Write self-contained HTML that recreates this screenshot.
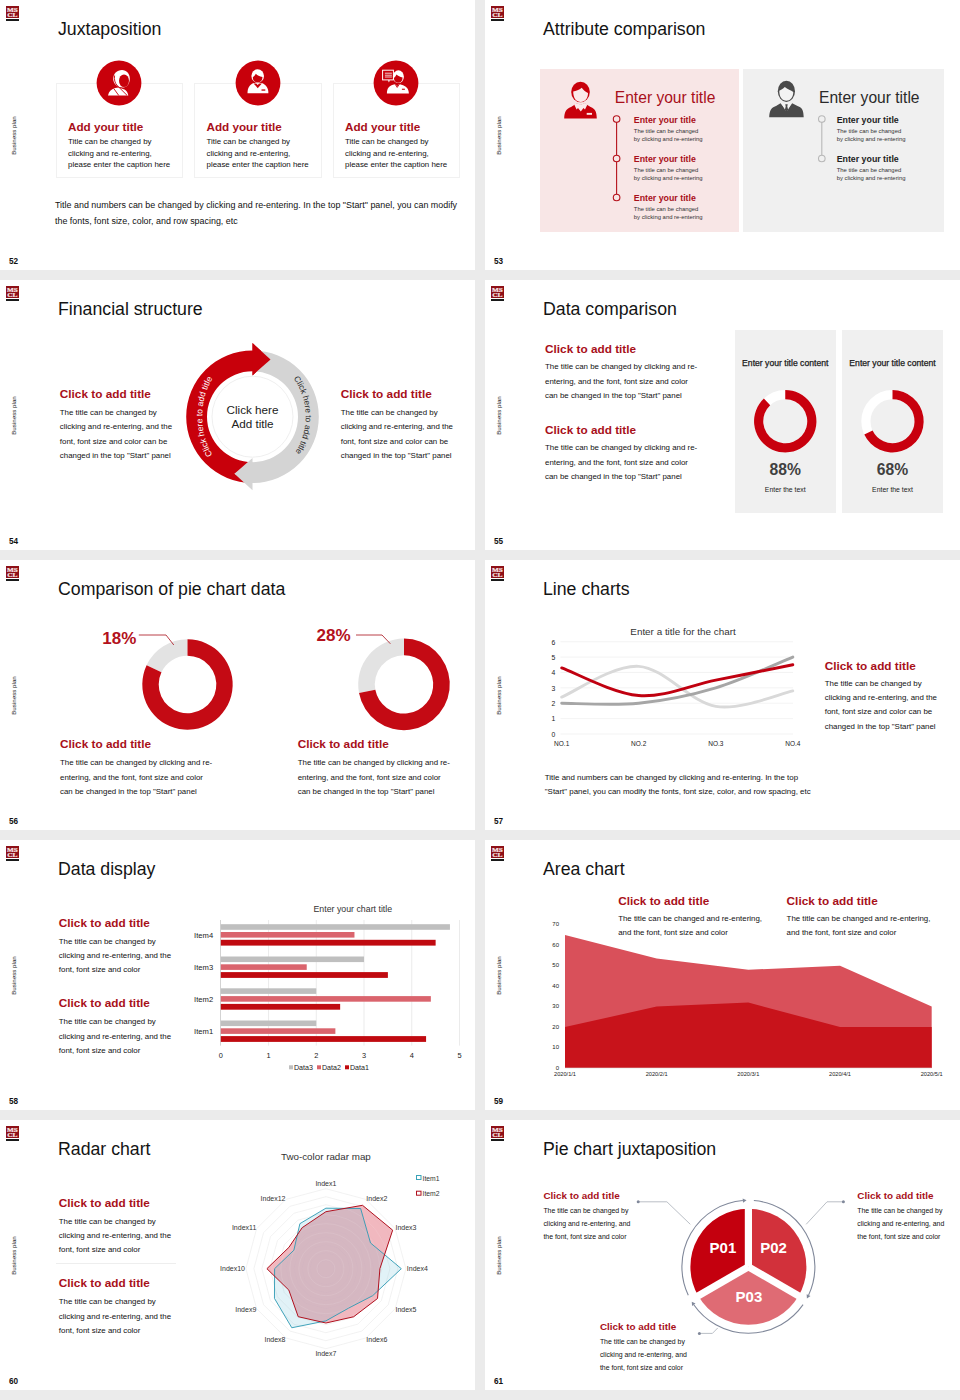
<!DOCTYPE html>
<html><head><meta charset="utf-8"><style>
html,body{margin:0;padding:0;}
body{width:960px;height:1400px;background:#ebebeb;position:relative;overflow:hidden;font-family:"Liberation Sans", sans-serif;}
.s{position:absolute;width:475px;height:270px;background:#fff;overflow:hidden;}
.t{position:absolute;white-space:nowrap;}
svg{overflow:visible;}
</style></head><body>
<div class="s" style="left:0px;top:0px"><div style="position:absolute;left:6.2px;top:5.9px;width:12.6px;height:12px;background:#8e1017"></div><svg style="position:absolute;left:6.2px;top:5.9px" width="12.6" height="12" viewBox="0 0 12.6 12"><g fill="#f6e3e3" stroke="#f6e3e3" stroke-width="0.25" font-family="Liberation Serif" font-weight="700" font-size="6.8"><text x="0.9" y="5.7" textLength="10.8" lengthAdjust="spacingAndGlyphs">MS</text><text x="1.2" y="11" textLength="10.3" lengthAdjust="spacingAndGlyphs">CL</text></g></svg><div style="position:absolute;left:6.2px;top:19px;width:12.6px;height:1.8px;background:#1a1a1a"></div><div class="t" style="left:58.00px;top:18.67px;font-size:17.72px;line-height:20.377999999999997px;font-weight:400;color:#141414;">Juxtaposition</div><div class="t" style="left:-7.5px;top:131.8px;width:40px;text-align:center;font-size:6.2px;line-height:7px;color:#111;transform:rotate(-90deg)">Business plan</div><div class="t" style="left:8.90px;top:256.74px;font-size:8.2px;line-height:9.429999999999998px;font-weight:700;color:#111;">52</div><div style="position:absolute;left:55.5px;top:83.2px;width:127.5px;height:95px;box-sizing:border-box;border:1px solid #f1f1f1;"></div><div style="position:absolute;left:194px;top:83.2px;width:127.5px;height:95px;box-sizing:border-box;border:1px solid #f1f1f1;"></div><div style="position:absolute;left:332.5px;top:83.2px;width:127.5px;height:95px;box-sizing:border-box;border:1px solid #f1f1f1;"></div><svg style="position:absolute;left:96.1px;top:60.4px" width="46" height="46" viewBox="0 0 46 46"><circle cx="23" cy="23" r="22.4" fill="#c8000b"/><path d="M17.2 19 C17.2 13.5 21 9.9 26 9.9 C30.5 9.9 33.8 13.5 33.8 18.5 C33.8 23.5 31 27.5 27 27.5 C22 27.5 17.2 24 17.2 19Z" fill="#fff"/><ellipse cx="28" cy="20.7" rx="5" ry="6.3" fill="#c8000b"/><path d="M12 35.5 C12.8 31.5 15 29.3 19 28 L22.5 27.6 L28.5 29.5 C30.5 30.5 31.8 32.5 32.3 35.5 Z" fill="#fff"/><path d="M18.6 15.5 C18 19.5 18.8 23 21.2 25.5 L31 35.3" stroke="#c8000b" stroke-width="0.9" fill="none"/><path d="M17.8 28.6 L22.8 35.5" stroke="#c8000b" stroke-width="0.9"/></svg><div class="t" style="left:68.00px;top:120.32px;font-size:11.7px;line-height:13.454999999999998px;font-weight:700;color:#a8101a;">Add your title</div><div class="t" style="left:68.00px;top:136.01px;font-size:7.9px;line-height:11.5px;font-weight:400;color:#111111;">Title can be changed by<br>clicking and re-entering,<br>please enter the caption here</div><svg style="position:absolute;left:234.60000000000002px;top:60.4px" width="46" height="46" viewBox="0 0 46 46"><circle cx="23" cy="23" r="22.4" fill="#c8000b"/><ellipse cx="22.7" cy="16" rx="6.3" ry="6.8" fill="#fff"/><path d="M17.8 17.2 C17.8 20.5 19.5 22.4 22.6 22.4 C25.8 22.4 27.5 20.5 27.5 17 C24.5 16.6 22.5 15.5 20.8 13.8 C20 15.5 19 16.5 17.8 17.2Z" fill="#c8000b"/><path d="M12.5 33.2 C12.5 28 14.5 24.5 19 23.1 L22.7 22.7 L26.5 23.1 C31 24.5 33.4 28 33.4 33.2 Z" fill="#fff"/><path d="M18.6 23.4 L26.9 23.4 L22.7 28.2 Z" fill="#c8000b"/><path d="M21 23.2 L24.4 23.2 L22.7 25.1 Z" fill="#fff"/><rect x="26.5" y="29.4" width="3.8" height="1.3" fill="#c8000b"/></svg><div class="t" style="left:206.50px;top:120.32px;font-size:11.7px;line-height:13.454999999999998px;font-weight:700;color:#a8101a;">Add your title</div><div class="t" style="left:206.50px;top:136.01px;font-size:7.9px;line-height:11.5px;font-weight:400;color:#111111;">Title can be changed by<br>clicking and re-entering,<br>please enter the caption here</div><svg style="position:absolute;left:373.1px;top:60.4px" width="46" height="46" viewBox="0 0 46 46"><circle cx="23" cy="23" r="22.4" fill="#c8000b"/><rect x="9.6" y="10.2" width="10.8" height="9.7" fill="none" stroke="#fff" stroke-width="1"/><path d="M14.9 20.3 L15.9 22.4 L16.9 20.3Z" fill="#fff"/><path d="M11.9 13.2h7M11.9 15.2h7M11.9 17h7" stroke="#fff" stroke-width="0.8"/><ellipse cx="25.4" cy="16.7" rx="5.5" ry="6.4" fill="#fff"/><path d="M20.9 18 C20.9 21 22.8 22.7 25.2 22.7 C27.8 22.7 29.6 21 29.6 17.5 C27 17 25 16 23.5 14.6 C22.8 16.2 22 17.2 20.9 18Z" fill="#c8000b"/><path d="M13.9 33.4 C14 28.5 15.8 25.8 20 24.7 L22.5 24 L24.2 26.5 L26 24 L28.5 24.7 C33 25.8 35.8 28.5 35.9 33.4 Z" fill="#fff"/><path d="M21.8 23.7 L24.2 27.4 L26.7 23.7" stroke="#c8000b" stroke-width="0.9" fill="none"/><rect x="28.9" y="28.7" width="3" height="1.1" fill="#c8000b"/></svg><div class="t" style="left:345.00px;top:120.32px;font-size:11.7px;line-height:13.454999999999998px;font-weight:700;color:#a8101a;">Add your title</div><div class="t" style="left:345.00px;top:136.01px;font-size:7.9px;line-height:11.5px;font-weight:400;color:#111111;">Title can be changed by<br>clicking and re-entering,<br>please enter the caption here</div><div class="t" style="left:55.00px;top:196.58px;font-size:8.92px;line-height:16.25px;font-weight:400;color:#111;">Title and numbers can be changed by clicking and re-entering. In the top "Start" panel, you can modify<br>the fonts, font size, color, and row spacing, etc</div></div><div class="s" style="left:485px;top:0px"><div style="position:absolute;left:6.2px;top:5.9px;width:12.6px;height:12px;background:#8e1017"></div><svg style="position:absolute;left:6.2px;top:5.9px" width="12.6" height="12" viewBox="0 0 12.6 12"><g fill="#f6e3e3" stroke="#f6e3e3" stroke-width="0.25" font-family="Liberation Serif" font-weight="700" font-size="6.8"><text x="0.9" y="5.7" textLength="10.8" lengthAdjust="spacingAndGlyphs">MS</text><text x="1.2" y="11" textLength="10.3" lengthAdjust="spacingAndGlyphs">CL</text></g></svg><div style="position:absolute;left:6.2px;top:19px;width:12.6px;height:1.8px;background:#1a1a1a"></div><div class="t" style="left:58.00px;top:18.67px;font-size:17.72px;line-height:20.377999999999997px;font-weight:400;color:#141414;">Attribute comparison</div><div class="t" style="left:-7.5px;top:131.8px;width:40px;text-align:center;font-size:6.2px;line-height:7px;color:#111;transform:rotate(-90deg)">Business plan</div><div class="t" style="left:8.90px;top:256.74px;font-size:8.2px;line-height:9.429999999999998px;font-weight:700;color:#111;">53</div><div style="position:absolute;left:55px;top:68.5px;width:199px;height:163.5px;background:#f8e6e6"></div><div style="position:absolute;left:258px;top:68.5px;width:201px;height:163.5px;background:#f0f0f0"></div><svg style="position:absolute;left:0px;top:0px" width="475" height="270" viewBox="0 0 475 270"><g transform="translate(73,76)"><ellipse cx="22.5" cy="16" rx="9.3" ry="10.3" fill="#c8000b"/><path d="M15.2 15.5 C15.2 22.5 18.5 26 22.8 26 C27 26 30 22.5 30 17 C27.5 16 25 14 23.8 11.8 C21 14.2 18 15 15.2 15.5Z" fill="#fbeaea"/><path d="M6.2 42.6 C6.4 36 8 32.8 13 31 L19 27.3 L22.8 29 L26.6 27.3 L32.6 31 C37.5 32.8 38.6 36 38.8 42.6 Z" fill="#c8000b"/><path d="M16.2 28.5 L19 27 L22.8 28.8 L26.6 27 L29.4 28.5 L27 33.5 L25.5 32 L22.8 35.5 L20 32 L18.6 33.5 Z" fill="#fbeaea"/><rect x="28.7" y="36.9" width="5.3" height="1.9" fill="#fbeaea"/></g><g transform="translate(278,76)"><ellipse cx="23.4" cy="15.3" rx="8.6" ry="10.6" fill="#4a4a4a"/><path d="M16.3 14.8 C16.3 21 19 24.8 23.5 24.8 C27.5 24.8 30.3 21 30.3 16 C28 14.5 24.5 13 21.8 11 C20 12.8 18 14 16.3 14.8Z" fill="#f3f3f3"/><path d="M6.2 41.2 C6.5 35 8 31.6 13 30 L17.5 27.2 L23.5 34 L29.2 27.2 L34.5 30 C39.5 31.6 40.5 35 40.7 41.2 Z" fill="#4a4a4a"/><path d="M18.2 27.4 L20.5 27.5 L23.5 28.8 L26.5 27.5 L28.7 27.4 L24.5 34.5 L22.5 34.5 Z" fill="#f3f3f3"/><path d="M22.3 28.3 L24.7 28.3 L24.3 30.5 L25.2 34 L23.5 35.5 L21.8 34 L22.7 30.5 Z" fill="#4a4a4a"/></g><path d="M131.6 119.1 V197.5" stroke="#b5111b" stroke-width="1.1"/><circle cx="131.6" cy="119.1" r="3.3" fill="#f8e6e6" stroke="#b5111b" stroke-width="1.1"/><circle cx="131.6" cy="158.5" r="3.3" fill="#f8e6e6" stroke="#b5111b" stroke-width="1.1"/><circle cx="131.6" cy="197.5" r="3.3" fill="#f8e6e6" stroke="#b5111b" stroke-width="1.1"/><path d="M336.8 119.1 V158.5" stroke="#b8b8b8" stroke-width="1.1"/><circle cx="336.8" cy="119.1" r="3.3" fill="#f0f0f0" stroke="#b8b8b8" stroke-width="1.1"/><circle cx="336.8" cy="158.5" r="3.3" fill="#f0f0f0" stroke="#b8b8b8" stroke-width="1.1"/></svg><div class="t" style="left:129.80px;top:88.82px;font-size:15.6px;line-height:17.939999999999998px;font-weight:400;color:#a8101a;">Enter your title</div><div class="t" style="left:334.00px;top:88.62px;font-size:15.6px;line-height:17.939999999999998px;font-weight:400;color:#2a2a2a;">Enter your title</div><div class="t" style="left:148.80px;top:115.09px;font-size:8.8px;line-height:10.12px;font-weight:700;color:#a8101a;">Enter your title</div><div class="t" style="left:148.80px;top:126.86px;font-size:5.9px;line-height:8.4px;font-weight:400;color:#333;">The title can be changed<br>by clicking and re-entering</div><div class="t" style="left:148.80px;top:153.89px;font-size:8.8px;line-height:10.12px;font-weight:700;color:#a8101a;">Enter your title</div><div class="t" style="left:148.80px;top:165.66px;font-size:5.9px;line-height:8.4px;font-weight:400;color:#333;">The title can be changed<br>by clicking and re-entering</div><div class="t" style="left:148.80px;top:193.09px;font-size:8.8px;line-height:10.12px;font-weight:700;color:#a8101a;">Enter your title</div><div class="t" style="left:148.80px;top:204.86px;font-size:5.9px;line-height:8.4px;font-weight:400;color:#333;">The title can be changed<br>by clicking and re-entering</div><div class="t" style="left:351.70px;top:115.09px;font-size:8.8px;line-height:10.12px;font-weight:700;color:#222;">Enter your title</div><div class="t" style="left:351.70px;top:126.86px;font-size:5.9px;line-height:8.4px;font-weight:400;color:#333;">The title can be changed<br>by clicking and re-entering</div><div class="t" style="left:351.70px;top:153.89px;font-size:8.8px;line-height:10.12px;font-weight:700;color:#222;">Enter your title</div><div class="t" style="left:351.70px;top:165.66px;font-size:5.9px;line-height:8.4px;font-weight:400;color:#333;">The title can be changed<br>by clicking and re-entering</div></div><div class="s" style="left:0px;top:280px"><div style="position:absolute;left:6.2px;top:5.9px;width:12.6px;height:12px;background:#8e1017"></div><svg style="position:absolute;left:6.2px;top:5.9px" width="12.6" height="12" viewBox="0 0 12.6 12"><g fill="#f6e3e3" stroke="#f6e3e3" stroke-width="0.25" font-family="Liberation Serif" font-weight="700" font-size="6.8"><text x="0.9" y="5.7" textLength="10.8" lengthAdjust="spacingAndGlyphs">MS</text><text x="1.2" y="11" textLength="10.3" lengthAdjust="spacingAndGlyphs">CL</text></g></svg><div style="position:absolute;left:6.2px;top:19px;width:12.6px;height:1.8px;background:#1a1a1a"></div><div class="t" style="left:58.00px;top:18.67px;font-size:17.72px;line-height:20.377999999999997px;font-weight:400;color:#141414;">Financial structure</div><div class="t" style="left:-7.5px;top:131.8px;width:40px;text-align:center;font-size:6.2px;line-height:7px;color:#111;transform:rotate(-90deg)">Business plan</div><div class="t" style="left:8.90px;top:256.74px;font-size:8.2px;line-height:9.429999999999998px;font-weight:700;color:#111;">54</div><div class="t" style="left:59.80px;top:108.13px;font-size:11.8px;line-height:13.57px;font-weight:700;color:#a8101a;">Click to add title</div><div class="t" style="left:59.80px;top:125.91px;font-size:7.9px;line-height:14.3px;font-weight:400;color:#111111;">The title can be changed by<br>clicking and re-entering, and the<br>font, font size and color can be<br>changed in the top "Start" panel</div><div class="t" style="left:340.70px;top:108.13px;font-size:11.8px;line-height:13.57px;font-weight:700;color:#a8101a;">Click to add title</div><div class="t" style="left:340.70px;top:125.91px;font-size:7.9px;line-height:14.3px;font-weight:400;color:#111111;">The title can be changed by<br>clicking and re-entering, and the<br>font, font size and color can be<br>changed in the top "Start" panel</div><svg style="position:absolute;left:0px;top:0px" width="475" height="270" viewBox="0 0 475 270"><path d="M252.50 203.00 A66.3 66.3 0 0 1 252.50 70.40 L252.50 63.10 L270.51 79.57 L252.50 95.40 L252.50 91.20 A45.5 45.5 0 0 0 252.50 182.20 L234.49 193.83 Z" fill="#c8000b"/><path d="M252.50 70.40 A66.3 66.3 0 0 1 252.50 203.00 L252.50 210.30 L234.49 193.83 L252.50 178.00 L252.50 182.20 A45.5 45.5 0 0 0 252.50 91.20 L270.51 79.57 Z" fill="#d4d4d4"/><path d="M252.50 63.10 L270.51 79.57 L252.50 95.40 Z" fill="#c8000b"/><circle cx="252.5" cy="136.7" r="40.5" fill="#fff" stroke="#e8e8e8" stroke-width="0.7"/><path id="arcR" d="M252.50 76.70 A53.2 60 0 0 1 252.50 196.70" fill="none"/><text font-size="8.4" fill="#2a2a2a" text-anchor="middle" font-family="Liberation Sans"><textPath href="#arcR" startOffset="49%">Click here to add title</textPath></text><path id="arcL" d="M252.50 199.70 A50.3 63 0 0 1 252.50 73.70" fill="none"/><text font-size="8.6" fill="#fff" text-anchor="middle" font-family="Liberation Sans"><textPath href="#arcL" startOffset="50%">Click here to add title</textPath></text></svg><div class="t" style="left:-47.50px;width:600px;top:123.10px;font-size:11.7px;line-height:14.1px;font-weight:400;color:#222;text-align:center;">Click here<br>Add title</div></div><div class="s" style="left:485px;top:280px"><div style="position:absolute;left:6.2px;top:5.9px;width:12.6px;height:12px;background:#8e1017"></div><svg style="position:absolute;left:6.2px;top:5.9px" width="12.6" height="12" viewBox="0 0 12.6 12"><g fill="#f6e3e3" stroke="#f6e3e3" stroke-width="0.25" font-family="Liberation Serif" font-weight="700" font-size="6.8"><text x="0.9" y="5.7" textLength="10.8" lengthAdjust="spacingAndGlyphs">MS</text><text x="1.2" y="11" textLength="10.3" lengthAdjust="spacingAndGlyphs">CL</text></g></svg><div style="position:absolute;left:6.2px;top:19px;width:12.6px;height:1.8px;background:#1a1a1a"></div><div class="t" style="left:58.00px;top:18.67px;font-size:17.72px;line-height:20.377999999999997px;font-weight:400;color:#141414;">Data comparison</div><div class="t" style="left:-7.5px;top:131.8px;width:40px;text-align:center;font-size:6.2px;line-height:7px;color:#111;transform:rotate(-90deg)">Business plan</div><div class="t" style="left:8.90px;top:256.74px;font-size:8.2px;line-height:9.429999999999998px;font-weight:700;color:#111;">55</div><div class="t" style="left:60.00px;top:62.93px;font-size:11.8px;line-height:13.57px;font-weight:700;color:#a8101a;">Click to add title</div><div class="t" style="left:60.00px;top:80.31px;font-size:7.9px;line-height:14.5px;font-weight:400;color:#111111;">The title can be changed by clicking and re-<br>entering, and the font, font size and color<br>can be changed in the top "Start" panel</div><div class="t" style="left:60.00px;top:143.68px;font-size:11.8px;line-height:13.57px;font-weight:700;color:#a8101a;">Click to add title</div><div class="t" style="left:60.00px;top:161.06px;font-size:7.9px;line-height:14.5px;font-weight:400;color:#111111;">The title can be changed by clicking and re-<br>entering, and the font, font size and color<br>can be changed in the top "Start" panel</div><div style="position:absolute;left:249.5px;top:49.5px;width:101.5px;height:183.5px;background:#f0f0f0"></div><div class="t" style="left:0.25px;width:600px;top:78.58px;font-size:8.65px;line-height:9.9475px;font-weight:400;color:#1a1a1a;text-align:center;-webkit-text-stroke:0.25px #1a1a1a;">Enter your title content</div><div class="t" style="left:0.25px;width:600px;top:180.73px;font-size:15.7px;line-height:18.054999999999996px;font-weight:700;color:#404040;text-align:center;">88%</div><div class="t" style="left:0.25px;width:600px;top:205.68px;font-size:6.86px;line-height:7.888999999999999px;font-weight:400;color:#222;text-align:center;">Enter the text</div><div style="position:absolute;left:356.75px;top:49.5px;width:101.5px;height:183.5px;background:#f0f0f0"></div><div class="t" style="left:107.50px;width:600px;top:78.58px;font-size:8.65px;line-height:9.9475px;font-weight:400;color:#1a1a1a;text-align:center;-webkit-text-stroke:0.25px #1a1a1a;">Enter your title content</div><div class="t" style="left:107.50px;width:600px;top:180.73px;font-size:15.7px;line-height:18.054999999999996px;font-weight:700;color:#404040;text-align:center;">68%</div><div class="t" style="left:107.50px;width:600px;top:205.68px;font-size:6.86px;line-height:7.888999999999999px;font-weight:400;color:#222;text-align:center;">Enter the text</div><svg style="position:absolute;left:0px;top:0px" width="475" height="270" viewBox="0 0 475 270"><circle cx="300.25" cy="141.25" r="26.6" fill="none" stroke="#fff" stroke-width="9.2"/><path d="M300.25 110.05 A31.2 31.2 0 1 1 278.89 118.51 L285.19 125.21 A22 22 0 1 0 300.25 119.25 Z" fill="#c8000e"/><circle cx="407.5" cy="141.25" r="26.6" fill="none" stroke="#fff" stroke-width="9.2"/><path d="M407.50 110.05 A31.2 31.2 0 1 1 379.27 154.53 L387.59 150.62 A22 22 0 1 0 407.50 119.25 Z" fill="#c8000e"/></svg></div><div class="s" style="left:0px;top:560px"><div style="position:absolute;left:6.2px;top:5.9px;width:12.6px;height:12px;background:#8e1017"></div><svg style="position:absolute;left:6.2px;top:5.9px" width="12.6" height="12" viewBox="0 0 12.6 12"><g fill="#f6e3e3" stroke="#f6e3e3" stroke-width="0.25" font-family="Liberation Serif" font-weight="700" font-size="6.8"><text x="0.9" y="5.7" textLength="10.8" lengthAdjust="spacingAndGlyphs">MS</text><text x="1.2" y="11" textLength="10.3" lengthAdjust="spacingAndGlyphs">CL</text></g></svg><div style="position:absolute;left:6.2px;top:19px;width:12.6px;height:1.8px;background:#1a1a1a"></div><div class="t" style="left:58.00px;top:18.67px;font-size:17.72px;line-height:20.377999999999997px;font-weight:400;color:#141414;">Comparison of pie chart data</div><div class="t" style="left:-7.5px;top:131.8px;width:40px;text-align:center;font-size:6.2px;line-height:7px;color:#111;transform:rotate(-90deg)">Business plan</div><div class="t" style="left:8.90px;top:256.74px;font-size:8.2px;line-height:9.429999999999998px;font-weight:700;color:#111;">56</div><svg style="position:absolute;left:0px;top:0px" width="475" height="270" viewBox="0 0 475 270"><path d="M146.60 105.25 A45.2 45.2 0 0 1 187.50 79.30 L187.50 95.70 A28.8 28.8 0 0 0 161.44 112.24 Z" fill="#e3e3e3"/><path d="M187.50 79.30 A45.2 45.2 0 1 1 146.60 105.25 L161.44 112.24 A28.8 28.8 0 1 0 187.50 95.70 Z" fill="#c40a14"/><path d="M359.01 132.98 A45.8 45.8 0 0 1 404.00 78.60 L404.00 95.20 A29.2 29.2 0 0 0 375.32 129.87 Z" fill="#e3e3e3"/><path d="M404.00 78.60 A45.8 45.8 0 1 1 359.01 132.98 L375.32 129.87 A29.2 29.2 0 1 0 404.00 95.20 Z" fill="#c40a14"/><path d="M138.8 75 H166 L173.8 85" stroke="#a8101a" stroke-width="0.8" fill="none"/><path d="M356 75 H382 L390.4 83.8" stroke="#a8101a" stroke-width="0.8" fill="none"/></svg><div class="t" style="left:102.30px;top:69.33px;font-size:17px;line-height:19.549999999999997px;font-weight:700;color:#b3111c;">18%</div><div class="t" style="left:316.50px;top:66.03px;font-size:17px;line-height:19.549999999999997px;font-weight:700;color:#b3111c;">28%</div><div class="t" style="left:60.00px;top:178.23px;font-size:11.8px;line-height:13.57px;font-weight:700;color:#a8101a;">Click to add title</div><div class="t" style="left:60.00px;top:196.31px;font-size:7.9px;line-height:14.5px;font-weight:400;color:#111111;">The title can be changed by clicking and re-<br>entering, and the font, font size and color<br>can be changed in the top "Start" panel</div><div class="t" style="left:297.70px;top:178.23px;font-size:11.8px;line-height:13.57px;font-weight:700;color:#a8101a;">Click to add title</div><div class="t" style="left:297.70px;top:196.31px;font-size:7.9px;line-height:14.5px;font-weight:400;color:#111111;">The title can be changed by clicking and re-<br>entering, and the font, font size and color<br>can be changed in the top "Start" panel</div></div><div class="s" style="left:485px;top:560px"><div style="position:absolute;left:6.2px;top:5.9px;width:12.6px;height:12px;background:#8e1017"></div><svg style="position:absolute;left:6.2px;top:5.9px" width="12.6" height="12" viewBox="0 0 12.6 12"><g fill="#f6e3e3" stroke="#f6e3e3" stroke-width="0.25" font-family="Liberation Serif" font-weight="700" font-size="6.8"><text x="0.9" y="5.7" textLength="10.8" lengthAdjust="spacingAndGlyphs">MS</text><text x="1.2" y="11" textLength="10.3" lengthAdjust="spacingAndGlyphs">CL</text></g></svg><div style="position:absolute;left:6.2px;top:19px;width:12.6px;height:1.8px;background:#1a1a1a"></div><div class="t" style="left:58.00px;top:18.67px;font-size:17.72px;line-height:20.377999999999997px;font-weight:400;color:#141414;">Line charts</div><div class="t" style="left:-7.5px;top:131.8px;width:40px;text-align:center;font-size:6.2px;line-height:7px;color:#111;transform:rotate(-90deg)">Business plan</div><div class="t" style="left:8.90px;top:256.74px;font-size:8.2px;line-height:9.429999999999998px;font-weight:700;color:#111;">57</div><div class="t" style="left:-102.00px;width:600px;top:66.48px;font-size:9.9px;line-height:11.385px;font-weight:400;color:#333;text-align:center;">Enter a title for the chart</div><svg style="position:absolute;left:0px;top:0px" width="475" height="270" viewBox="0 0 475 270"><path d="M75.5 174.00 H308" stroke="#f0f0f0" stroke-width="0.8"/><path d="M75.5 158.62 H308" stroke="#f0f0f0" stroke-width="0.8"/><path d="M75.5 143.24 H308" stroke="#f0f0f0" stroke-width="0.8"/><path d="M75.5 127.86 H308" stroke="#f0f0f0" stroke-width="0.8"/><path d="M75.5 112.48 H308" stroke="#f0f0f0" stroke-width="0.8"/><path d="M75.5 97.10 H308" stroke="#f0f0f0" stroke-width="0.8"/><path d="M75.5 81.72 H308" stroke="#f0f0f0" stroke-width="0.8"/><path d="M76.70 137.09 C89.53 131.96 128.02 104.79 153.70 106.33 C179.38 107.87 205.12 142.21 230.80 146.32 C256.48 150.42 294.97 133.50 307.80 130.94" stroke="#d9d9d9" stroke-width="2.9" fill="none" stroke-linecap="round"/><path d="M76.70 143.24 C89.53 143.24 128.02 145.80 153.70 143.24 C179.38 140.68 205.12 135.55 230.80 127.86 C256.48 120.17 294.97 102.23 307.80 97.10" stroke="#a6a6a6" stroke-width="2.9" fill="none" stroke-linecap="round"/><path d="M76.70 107.87 C89.53 112.48 128.02 133.50 153.70 135.55 C179.38 137.60 205.12 125.30 230.80 120.17 C256.48 115.04 294.97 107.35 307.80 104.79" stroke="#c00010" stroke-width="2.9" fill="none" stroke-linecap="round"/></svg><div class="t" style="left:-231.50px;width:600px;top:170.83px;font-size:6.8px;line-height:7.819999999999999px;font-weight:400;color:#222;text-align:center;">0</div><div class="t" style="left:-231.50px;width:600px;top:155.45px;font-size:6.8px;line-height:7.819999999999999px;font-weight:400;color:#222;text-align:center;">1</div><div class="t" style="left:-231.50px;width:600px;top:140.07px;font-size:6.8px;line-height:7.819999999999999px;font-weight:400;color:#222;text-align:center;">2</div><div class="t" style="left:-231.50px;width:600px;top:124.69px;font-size:6.8px;line-height:7.819999999999999px;font-weight:400;color:#222;text-align:center;">3</div><div class="t" style="left:-231.50px;width:600px;top:109.31px;font-size:6.8px;line-height:7.819999999999999px;font-weight:400;color:#222;text-align:center;">4</div><div class="t" style="left:-231.50px;width:600px;top:93.93px;font-size:6.8px;line-height:7.819999999999999px;font-weight:400;color:#222;text-align:center;">5</div><div class="t" style="left:-231.50px;width:600px;top:78.55px;font-size:6.8px;line-height:7.819999999999999px;font-weight:400;color:#222;text-align:center;">6</div><div class="t" style="left:-223.30px;width:600px;top:180.41px;font-size:6.5px;line-height:7.475px;font-weight:400;color:#222;text-align:center;">NO.1</div><div class="t" style="left:-146.30px;width:600px;top:180.41px;font-size:6.5px;line-height:7.475px;font-weight:400;color:#222;text-align:center;">NO.2</div><div class="t" style="left:-69.20px;width:600px;top:180.41px;font-size:6.5px;line-height:7.475px;font-weight:400;color:#222;text-align:center;">NO.3</div><div class="t" style="left:7.80px;width:600px;top:180.41px;font-size:6.5px;line-height:7.475px;font-weight:400;color:#222;text-align:center;">NO.4</div><div class="t" style="left:339.70px;top:100.43px;font-size:11.8px;line-height:13.57px;font-weight:700;color:#a8101a;">Click to add title</div><div class="t" style="left:339.70px;top:116.96px;font-size:7.9px;line-height:14.2px;font-weight:400;color:#111111;">The title can be changed by<br>clicking and re-entering, and the<br>font, font size and color can be<br>changed in the top "Start" panel</div><div class="t" style="left:59.80px;top:210.81px;font-size:7.92px;line-height:14.5px;font-weight:400;color:#111111;">Title and numbers can be changed by clicking and re-entering. In the top<br>"Start" panel, you can modify the fonts, font size, color, and row spacing, etc</div></div><div class="s" style="left:0px;top:840px"><div style="position:absolute;left:6.2px;top:5.9px;width:12.6px;height:12px;background:#8e1017"></div><svg style="position:absolute;left:6.2px;top:5.9px" width="12.6" height="12" viewBox="0 0 12.6 12"><g fill="#f6e3e3" stroke="#f6e3e3" stroke-width="0.25" font-family="Liberation Serif" font-weight="700" font-size="6.8"><text x="0.9" y="5.7" textLength="10.8" lengthAdjust="spacingAndGlyphs">MS</text><text x="1.2" y="11" textLength="10.3" lengthAdjust="spacingAndGlyphs">CL</text></g></svg><div style="position:absolute;left:6.2px;top:19px;width:12.6px;height:1.8px;background:#1a1a1a"></div><div class="t" style="left:58.00px;top:18.67px;font-size:17.72px;line-height:20.377999999999997px;font-weight:400;color:#141414;">Data display</div><div class="t" style="left:-7.5px;top:131.8px;width:40px;text-align:center;font-size:6.2px;line-height:7px;color:#111;transform:rotate(-90deg)">Business plan</div><div class="t" style="left:8.90px;top:256.74px;font-size:8.2px;line-height:9.429999999999998px;font-weight:700;color:#111;">58</div><div class="t" style="left:58.80px;top:76.63px;font-size:11.8px;line-height:13.57px;font-weight:700;color:#a8101a;">Click to add title</div><div class="t" style="left:58.80px;top:94.56px;font-size:7.9px;line-height:14.4px;font-weight:400;color:#111111;">The title can be changed by<br>clicking and re-entering, and the<br>font, font size and color</div><div class="t" style="left:58.80px;top:157.43px;font-size:11.8px;line-height:13.57px;font-weight:700;color:#a8101a;">Click to add title</div><div class="t" style="left:58.80px;top:175.36px;font-size:7.9px;line-height:14.4px;font-weight:400;color:#111111;">The title can be changed by<br>clicking and re-entering, and the<br>font, font size and color</div><div class="t" style="left:52.80px;width:600px;top:63.69px;font-size:8.8px;line-height:10.12px;font-weight:400;color:#333;text-align:center;">Enter your chart title</div><svg style="position:absolute;left:0px;top:0px" width="475" height="270" viewBox="0 0 475 270"><path d="M268.54 80 V205.6" stroke="#e3e3e3" stroke-width="0.7"/><path d="M316.28 80 V205.6" stroke="#e3e3e3" stroke-width="0.7"/><path d="M364.02 80 V205.6" stroke="#e3e3e3" stroke-width="0.7"/><path d="M411.76 80 V205.6" stroke="#e3e3e3" stroke-width="0.7"/><path d="M459.50 80 V205.6" stroke="#e3e3e3" stroke-width="0.7"/><path d="M220.50 80 V205.6" stroke="#c8c8c8" stroke-width="0.8"/><rect x="220.8" y="84.2" width="229.15" height="5.6" fill="#bfbfbf"/><rect x="220.8" y="92.00" width="133.67" height="5.6" fill="#da646d"/><rect x="220.8" y="99.80" width="214.83" height="5.8" fill="#c00a10"/><rect x="220.8" y="116.5" width="143.22" height="5.6" fill="#bfbfbf"/><rect x="220.8" y="124.30" width="85.93" height="5.6" fill="#da646d"/><rect x="220.8" y="132.10" width="167.09" height="5.8" fill="#c00a10"/><rect x="220.8" y="148.3" width="95.48" height="5.6" fill="#bfbfbf"/><rect x="220.8" y="156.10" width="210.06" height="5.6" fill="#da646d"/><rect x="220.8" y="163.90" width="119.35" height="5.8" fill="#c00a10"/><rect x="220.8" y="180.5" width="95.48" height="5.6" fill="#bfbfbf"/><rect x="220.8" y="188.30" width="114.58" height="5.6" fill="#da646d"/><rect x="220.8" y="196.10" width="205.28" height="5.8" fill="#c00a10"/><rect x="289" y="225.3" width="4" height="4" fill="#bfbfbf"/><rect x="317" y="225.3" width="4" height="4" fill="#da646d"/><rect x="345" y="225.3" width="4" height="4" fill="#c00a10"/></svg><div class="t" style="left:-96.40px;width:600px;top:91.60px;font-size:7.6px;line-height:8.739999999999998px;font-weight:400;color:#222;text-align:center;">Item4</div><div class="t" style="left:-96.40px;width:600px;top:123.90px;font-size:7.6px;line-height:8.739999999999998px;font-weight:400;color:#222;text-align:center;">Item3</div><div class="t" style="left:-96.40px;width:600px;top:155.70px;font-size:7.6px;line-height:8.739999999999998px;font-weight:400;color:#222;text-align:center;">Item2</div><div class="t" style="left:-96.40px;width:600px;top:187.90px;font-size:7.6px;line-height:8.739999999999998px;font-weight:400;color:#222;text-align:center;">Item1</div><div class="t" style="left:-79.20px;width:600px;top:211.98px;font-size:7.4px;line-height:8.51px;font-weight:400;color:#222;text-align:center;">0</div><div class="t" style="left:-31.46px;width:600px;top:211.98px;font-size:7.4px;line-height:8.51px;font-weight:400;color:#222;text-align:center;">1</div><div class="t" style="left:16.28px;width:600px;top:211.98px;font-size:7.4px;line-height:8.51px;font-weight:400;color:#222;text-align:center;">2</div><div class="t" style="left:64.02px;width:600px;top:211.98px;font-size:7.4px;line-height:8.51px;font-weight:400;color:#222;text-align:center;">3</div><div class="t" style="left:111.76px;width:600px;top:211.98px;font-size:7.4px;line-height:8.51px;font-weight:400;color:#222;text-align:center;">4</div><div class="t" style="left:159.50px;width:600px;top:211.98px;font-size:7.4px;line-height:8.51px;font-weight:400;color:#222;text-align:center;">5</div><div class="t" style="left:294.00px;top:224.26px;font-size:7.1px;line-height:8.165px;font-weight:400;color:#222;">Data3</div><div class="t" style="left:322.00px;top:224.26px;font-size:7.1px;line-height:8.165px;font-weight:400;color:#222;">Data2</div><div class="t" style="left:350.00px;top:224.26px;font-size:7.1px;line-height:8.165px;font-weight:400;color:#222;">Data1</div></div><div class="s" style="left:485px;top:840px"><div style="position:absolute;left:6.2px;top:5.9px;width:12.6px;height:12px;background:#8e1017"></div><svg style="position:absolute;left:6.2px;top:5.9px" width="12.6" height="12" viewBox="0 0 12.6 12"><g fill="#f6e3e3" stroke="#f6e3e3" stroke-width="0.25" font-family="Liberation Serif" font-weight="700" font-size="6.8"><text x="0.9" y="5.7" textLength="10.8" lengthAdjust="spacingAndGlyphs">MS</text><text x="1.2" y="11" textLength="10.3" lengthAdjust="spacingAndGlyphs">CL</text></g></svg><div style="position:absolute;left:6.2px;top:19px;width:12.6px;height:1.8px;background:#1a1a1a"></div><div class="t" style="left:58.00px;top:18.67px;font-size:17.72px;line-height:20.377999999999997px;font-weight:400;color:#141414;">Area chart</div><div class="t" style="left:-7.5px;top:131.8px;width:40px;text-align:center;font-size:6.2px;line-height:7px;color:#111;transform:rotate(-90deg)">Business plan</div><div class="t" style="left:8.90px;top:256.74px;font-size:8.2px;line-height:9.429999999999998px;font-weight:700;color:#111;">59</div><svg style="position:absolute;left:0px;top:0px" width="475" height="270" viewBox="0 0 475 270"><polygon points="80.0,228 80.00,94.94 171.67,118.49 263.34,129.74 355.01,125.65 446.68,166.59 446.68,228" fill="#d9505a"/><polygon points="80.0,228 80.00,187.06 171.67,166.59 263.34,162.50 355.01,187.06 446.68,187.06 446.68,228" fill="#c8131b"/><path d="M80.0 228 H446.68" stroke="#d9d9d9" stroke-width="0.6"/></svg><div class="t" style="left:-526.00px;width:600px;top:224.77px;font-size:6px;line-height:6.8999999999999995px;font-weight:400;color:#222;text-align:right;">0</div><div class="t" style="left:-526.00px;width:600px;top:204.30px;font-size:6px;line-height:6.8999999999999995px;font-weight:400;color:#222;text-align:right;">10</div><div class="t" style="left:-526.00px;width:600px;top:183.83px;font-size:6px;line-height:6.8999999999999995px;font-weight:400;color:#222;text-align:right;">20</div><div class="t" style="left:-526.00px;width:600px;top:163.36px;font-size:6px;line-height:6.8999999999999995px;font-weight:400;color:#222;text-align:right;">30</div><div class="t" style="left:-526.00px;width:600px;top:142.89px;font-size:6px;line-height:6.8999999999999995px;font-weight:400;color:#222;text-align:right;">40</div><div class="t" style="left:-526.00px;width:600px;top:122.42px;font-size:6px;line-height:6.8999999999999995px;font-weight:400;color:#222;text-align:right;">50</div><div class="t" style="left:-526.00px;width:600px;top:101.95px;font-size:6px;line-height:6.8999999999999995px;font-weight:400;color:#222;text-align:right;">60</div><div class="t" style="left:-526.00px;width:600px;top:81.48px;font-size:6px;line-height:6.8999999999999995px;font-weight:400;color:#222;text-align:right;">70</div><div class="t" style="left:-220.00px;width:600px;top:231.49px;font-size:5.65px;line-height:6.4975px;font-weight:400;color:#222;text-align:center;">2020/1/1</div><div class="t" style="left:-128.33px;width:600px;top:231.49px;font-size:5.65px;line-height:6.4975px;font-weight:400;color:#222;text-align:center;">2020/2/1</div><div class="t" style="left:-36.66px;width:600px;top:231.49px;font-size:5.65px;line-height:6.4975px;font-weight:400;color:#222;text-align:center;">2020/3/1</div><div class="t" style="left:55.01px;width:600px;top:231.49px;font-size:5.65px;line-height:6.4975px;font-weight:400;color:#222;text-align:center;">2020/4/1</div><div class="t" style="left:146.68px;width:600px;top:231.49px;font-size:5.65px;line-height:6.4975px;font-weight:400;color:#222;text-align:center;">2020/5/1</div><div class="t" style="left:133.20px;top:55.33px;font-size:11.8px;line-height:13.57px;font-weight:700;color:#a8101a;">Click to add title</div><div class="t" style="left:133.20px;top:72.13px;font-size:7.86px;line-height:14.3px;font-weight:400;color:#111111;">The title can be changed and re-entering,<br>and the font, font size and color</div><div class="t" style="left:301.60px;top:55.33px;font-size:11.8px;line-height:13.57px;font-weight:700;color:#a8101a;">Click to add title</div><div class="t" style="left:301.60px;top:72.13px;font-size:7.86px;line-height:14.3px;font-weight:400;color:#111111;">The title can be changed and re-entering,<br>and the font, font size and color</div></div><div class="s" style="left:0px;top:1120px"><div style="position:absolute;left:6.2px;top:5.9px;width:12.6px;height:12px;background:#8e1017"></div><svg style="position:absolute;left:6.2px;top:5.9px" width="12.6" height="12" viewBox="0 0 12.6 12"><g fill="#f6e3e3" stroke="#f6e3e3" stroke-width="0.25" font-family="Liberation Serif" font-weight="700" font-size="6.8"><text x="0.9" y="5.7" textLength="10.8" lengthAdjust="spacingAndGlyphs">MS</text><text x="1.2" y="11" textLength="10.3" lengthAdjust="spacingAndGlyphs">CL</text></g></svg><div style="position:absolute;left:6.2px;top:19px;width:12.6px;height:1.8px;background:#1a1a1a"></div><div class="t" style="left:58.00px;top:18.67px;font-size:17.72px;line-height:20.377999999999997px;font-weight:400;color:#141414;">Radar chart</div><div class="t" style="left:-7.5px;top:131.8px;width:40px;text-align:center;font-size:6.2px;line-height:7px;color:#111;transform:rotate(-90deg)">Business plan</div><div class="t" style="left:8.90px;top:256.74px;font-size:8.2px;line-height:9.429999999999998px;font-weight:700;color:#111;">60</div><div class="t" style="left:58.80px;top:76.63px;font-size:11.8px;line-height:13.57px;font-weight:700;color:#a8101a;">Click to add title</div><div class="t" style="left:58.80px;top:94.56px;font-size:7.9px;line-height:14.4px;font-weight:400;color:#111111;">The title can be changed by<br>clicking and re-entering, and the<br>font, font size and color</div><div class="t" style="left:58.80px;top:157.43px;font-size:11.8px;line-height:13.57px;font-weight:700;color:#a8101a;">Click to add title</div><div class="t" style="left:58.80px;top:175.36px;font-size:7.9px;line-height:14.4px;font-weight:400;color:#111111;">The title can be changed by<br>clicking and re-entering, and the<br>font, font size and color</div><div style="position:absolute;left:56px;top:143.3px;width:120px;height:0.8px;background:#eeeeee"></div><div class="t" style="left:25.90px;width:600px;top:30.77px;font-size:9.8px;line-height:11.27px;font-weight:400;color:#333;text-align:center;">Two-color radar map</div><svg style="position:absolute;left:0px;top:0px" width="475" height="270" viewBox="0 0 475 270"><polygon points="325.90,140.70 329.90,141.77 332.83,144.70 333.90,148.70 332.83,152.70 329.90,155.63 325.90,156.70 321.90,155.63 318.97,152.70 317.90,148.70 318.97,144.70 321.90,141.77" fill="none" stroke="#ececec" stroke-width="0.7"/><polygon points="325.90,132.70 333.90,134.84 339.76,140.70 341.90,148.70 339.76,156.70 333.90,162.56 325.90,164.70 317.90,162.56 312.04,156.70 309.90,148.70 312.04,140.70 317.90,134.84" fill="none" stroke="#ececec" stroke-width="0.7"/><polygon points="325.90,124.70 337.90,127.92 346.68,136.70 349.90,148.70 346.68,160.70 337.90,169.48 325.90,172.70 313.90,169.48 305.12,160.70 301.90,148.70 305.12,136.70 313.90,127.92" fill="none" stroke="#ececec" stroke-width="0.7"/><polygon points="325.90,116.70 341.90,120.99 353.61,132.70 357.90,148.70 353.61,164.70 341.90,176.41 325.90,180.70 309.90,176.41 298.19,164.70 293.90,148.70 298.19,132.70 309.90,120.99" fill="none" stroke="#ececec" stroke-width="0.7"/><polygon points="325.90,108.70 345.90,114.06 360.54,128.70 365.90,148.70 360.54,168.70 345.90,183.34 325.90,188.70 305.90,183.34 291.26,168.70 285.90,148.70 291.26,128.70 305.90,114.06" fill="none" stroke="#ececec" stroke-width="0.7"/><polygon points="325.90,100.70 349.90,107.13 367.47,124.70 373.90,148.70 367.47,172.70 349.90,190.27 325.90,196.70 301.90,190.27 284.33,172.70 277.90,148.70 284.33,124.70 301.90,107.13" fill="none" stroke="#ececec" stroke-width="0.7"/><polygon points="325.90,92.70 353.90,100.20 374.40,120.70 381.90,148.70 374.40,176.70 353.90,197.20 325.90,204.70 297.90,197.20 277.40,176.70 269.90,148.70 277.40,120.70 297.90,100.20" fill="none" stroke="#ececec" stroke-width="0.7"/><polygon points="325.90,84.70 357.90,93.27 381.33,116.70 389.90,148.70 381.33,180.70 357.90,204.13 325.90,212.70 293.90,204.13 270.47,180.70 261.90,148.70 270.47,116.70 293.90,93.27" fill="none" stroke="#ececec" stroke-width="0.7"/><polygon points="325.90,76.70 361.90,86.35 388.25,112.70 397.90,148.70 388.25,184.70 361.90,211.05 325.90,220.70 289.90,211.05 263.55,184.70 253.90,148.70 263.55,112.70 289.90,86.35" fill="none" stroke="#ececec" stroke-width="0.7"/><polygon points="325.90,68.70 365.90,79.42 395.18,108.70 405.90,148.70 395.18,188.70 365.90,217.98 325.90,228.70 285.90,217.98 256.62,188.70 245.90,148.70 256.62,108.70 285.90,79.42" fill="none" stroke="#ececec" stroke-width="0.7"/><polygon points="325.90,91.70 362.50,85.31 392.67,110.15 379.90,148.70 377.52,178.50 353.65,196.76 325.90,203.00 298.20,196.68 288.83,170.10 266.90,148.70 288.92,127.35 302.20,107.65" fill="#eeacb4" fill-opacity="0.85"/><polygon points="325.90,88.20 360.65,88.51 370.50,122.95 401.30,148.70 372.67,175.70 348.65,188.10 325.90,200.90 291.80,207.76 274.46,178.40 274.60,148.70 293.86,130.20 299.90,103.67" fill="#4fb4d2" fill-opacity="0.17"/><circle cx="325.9" cy="148.7" r="9" fill="none" stroke="#ffffff" stroke-opacity="0.12" stroke-width="0.8"/><circle cx="325.9" cy="148.7" r="18" fill="none" stroke="#ffffff" stroke-opacity="0.12" stroke-width="0.8"/><circle cx="325.9" cy="148.7" r="27" fill="none" stroke="#ffffff" stroke-opacity="0.12" stroke-width="0.8"/><circle cx="325.9" cy="148.7" r="36" fill="none" stroke="#ffffff" stroke-opacity="0.12" stroke-width="0.8"/><circle cx="325.9" cy="148.7" r="45" fill="none" stroke="#ffffff" stroke-opacity="0.12" stroke-width="0.8"/><circle cx="325.9" cy="148.7" r="54" fill="none" stroke="#ffffff" stroke-opacity="0.12" stroke-width="0.8"/><circle cx="325.9" cy="148.7" r="63" fill="none" stroke="#ffffff" stroke-opacity="0.12" stroke-width="0.8"/><polygon points="325.90,88.20 360.65,88.51 370.50,122.95 401.30,148.70 372.67,175.70 348.65,188.10 325.90,200.90 291.80,207.76 274.46,178.40 274.60,148.70 293.86,130.20 299.90,103.67" fill="none" stroke="#2e9ab3" stroke-width="0.9"/><polygon points="325.90,91.70 362.50,85.31 392.67,110.15 379.90,148.70 377.52,178.50 353.65,196.76 325.90,203.00 298.20,196.68 288.83,170.10 266.90,148.70 288.92,127.35 302.20,107.65" fill="none" stroke="#b0101e" stroke-width="1"/><rect x="416.5" y="55.5" width="4.5" height="4" fill="none" stroke="#3aa3b8" stroke-width="1"/><rect x="416.5" y="71.2" width="4.5" height="4" fill="none" stroke="#b0101e" stroke-width="1"/></svg><div class="t" style="left:422.50px;top:54.53px;font-size:6.8px;line-height:7.819999999999999px;font-weight:400;color:#333;">Item1</div><div class="t" style="left:422.50px;top:70.13px;font-size:6.8px;line-height:7.819999999999999px;font-weight:400;color:#333;">Item2</div><div class="t" style="left:25.90px;width:600px;top:60.15px;font-size:7px;line-height:8.049999999999999px;font-weight:400;color:#333;text-align:center;">Index1</div><div class="t" style="left:366.30px;top:75.15px;font-size:7px;line-height:8.049999999999999px;font-weight:400;color:#333;">Index2</div><div class="t" style="left:395.50px;top:104.35px;font-size:7px;line-height:8.049999999999999px;font-weight:400;color:#333;">Index3</div><div class="t" style="left:406.80px;top:145.25px;font-size:7px;line-height:8.049999999999999px;font-weight:400;color:#333;">Index4</div><div class="t" style="left:395.50px;top:186.35px;font-size:7px;line-height:8.049999999999999px;font-weight:400;color:#333;">Index5</div><div class="t" style="left:366.30px;top:215.85px;font-size:7px;line-height:8.049999999999999px;font-weight:400;color:#333;">Index6</div><div class="t" style="left:25.90px;width:600px;top:229.85px;font-size:7px;line-height:8.049999999999999px;font-weight:400;color:#333;text-align:center;">Index7</div><div class="t" style="left:-314.50px;width:600px;top:215.85px;font-size:7px;line-height:8.049999999999999px;font-weight:400;color:#333;text-align:right;">Index8</div><div class="t" style="left:-343.70px;width:600px;top:186.35px;font-size:7px;line-height:8.049999999999999px;font-weight:400;color:#333;text-align:right;">Index9</div><div class="t" style="left:-355.00px;width:600px;top:145.25px;font-size:7px;line-height:8.049999999999999px;font-weight:400;color:#333;text-align:right;">Index10</div><div class="t" style="left:-343.70px;width:600px;top:104.35px;font-size:7px;line-height:8.049999999999999px;font-weight:400;color:#333;text-align:right;">Index11</div><div class="t" style="left:-314.50px;width:600px;top:75.15px;font-size:7px;line-height:8.049999999999999px;font-weight:400;color:#333;text-align:right;">Index12</div></div><div class="s" style="left:485px;top:1120px"><div style="position:absolute;left:6.2px;top:5.9px;width:12.6px;height:12px;background:#8e1017"></div><svg style="position:absolute;left:6.2px;top:5.9px" width="12.6" height="12" viewBox="0 0 12.6 12"><g fill="#f6e3e3" stroke="#f6e3e3" stroke-width="0.25" font-family="Liberation Serif" font-weight="700" font-size="6.8"><text x="0.9" y="5.7" textLength="10.8" lengthAdjust="spacingAndGlyphs">MS</text><text x="1.2" y="11" textLength="10.3" lengthAdjust="spacingAndGlyphs">CL</text></g></svg><div style="position:absolute;left:6.2px;top:19px;width:12.6px;height:1.8px;background:#1a1a1a"></div><div class="t" style="left:58.00px;top:18.67px;font-size:17.72px;line-height:20.377999999999997px;font-weight:400;color:#141414;">Pie chart juxtaposition</div><div class="t" style="left:-7.5px;top:131.8px;width:40px;text-align:center;font-size:6.2px;line-height:7px;color:#111;transform:rotate(-90deg)">Business plan</div><div class="t" style="left:8.90px;top:256.74px;font-size:8.2px;line-height:9.429999999999998px;font-weight:700;color:#111;">61</div><svg style="position:absolute;left:0px;top:0px" width="475" height="270" viewBox="0 0 475 270"><path d="M263.4 146.8 L263.40 88.80 A58 58 0 0 1 313.63 175.80 Z" fill="#d2313b"/><path d="M263.4 146.8 L313.63 175.80 A58 58 0 0 1 213.17 175.80 Z" fill="#df6b74"/><path d="M263.4 146.8 L213.17 175.80 A58 58 0 0 1 263.40 88.80 Z" fill="#c4000e"/><path d="M263.4 146.8 L263.40 86.80" stroke="#fff" stroke-width="7.2"/><path d="M263.4 146.8 L315.36 176.80" stroke="#fff" stroke-width="7.2"/><path d="M263.4 146.8 L211.44 176.80" stroke="#fff" stroke-width="7.2"/><path d="M268.85 80.52 A66.5 66.5 0 0 1 323.57 175.11" stroke="#80889a" stroke-width="1.1" fill="none"/><path d="M325.47 176.01 L321.90 178.43 L321.67 174.22 Z" fill="#80889a"/><path d="M318.07 184.66 A66.5 66.5 0 0 1 208.79 184.75" stroke="#80889a" stroke-width="1.1" fill="none"/><path d="M207.07 185.95 L206.76 181.65 L210.52 183.55 Z" fill="#80889a"/><path d="M203.28 175.22 A66.5 66.5 0 0 1 257.84 80.53" stroke="#80889a" stroke-width="1.1" fill="none"/><path d="M257.66 78.44 L261.54 80.33 L258.01 82.63 Z" fill="#80889a"/><path d="M153.2 81.8 H181.9 L205.3 104.3" stroke="#a8aeb8" stroke-width="0.8" fill="none"/><circle cx="153.2" cy="81.8" r="1.5" fill="#80889a"/><path d="M358.4 81.8 H342 L321.2 104.3" stroke="#a8aeb8" stroke-width="0.8" fill="none"/><circle cx="358.4" cy="81.8" r="1.5" fill="#80889a"/><path d="M214.4 213.4 H227.4 L232.7 208" stroke="#a8aeb8" stroke-width="0.8" fill="none"/><circle cx="214.4" cy="213.4" r="1.5" fill="#80889a"/></svg><div class="t" style="left:-62.10px;width:600px;top:119.38px;font-size:15px;line-height:17.25px;font-weight:700;color:#fff;text-align:center;">P01</div><div class="t" style="left:-11.40px;width:600px;top:119.38px;font-size:15px;line-height:17.25px;font-weight:700;color:#fff;text-align:center;">P02</div><div class="t" style="left:-36.10px;width:600px;top:168.18px;font-size:15px;line-height:17.25px;font-weight:700;color:#fff;text-align:center;">P03</div><div class="t" style="left:58.40px;top:69.98px;font-size:9.9px;line-height:11.385px;font-weight:700;color:#a8101a;">Click to add title</div><div class="t" style="left:58.40px;top:85.12px;font-size:6.93px;line-height:12.75px;font-weight:400;color:#111111;">The title can be changed by<br>clicking and re-entering, and<br>the font, font size and color</div><div class="t" style="left:372.30px;top:69.98px;font-size:9.9px;line-height:11.385px;font-weight:700;color:#a8101a;">Click to add title</div><div class="t" style="left:372.30px;top:85.12px;font-size:6.93px;line-height:12.75px;font-weight:400;color:#111111;">The title can be changed by<br>clicking and re-entering, and<br>the font, font size and color</div><div class="t" style="left:114.90px;top:201.28px;font-size:9.9px;line-height:11.385px;font-weight:700;color:#a8101a;">Click to add title</div><div class="t" style="left:114.90px;top:216.42px;font-size:6.93px;line-height:12.75px;font-weight:400;color:#111111;">The title can be changed by<br>clicking and re-entering, and<br>the font, font size and color</div></div>
</body></html>
